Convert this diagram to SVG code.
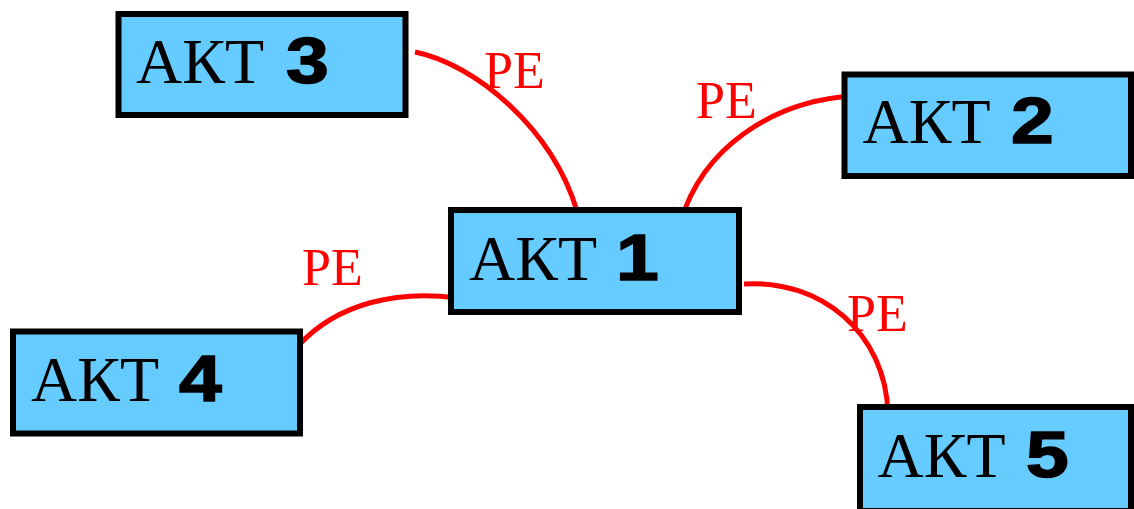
<svg xmlns="http://www.w3.org/2000/svg" width="1134" height="509" viewBox="0 0 1134 509">
<style>
.box{fill:#66CCFF;stroke:#000;stroke-width:6}
.t{font-family:"Liberation Serif","Times New Roman",serif;font-size:64px;fill:#000}
.d{font-family:"Liberation Sans",Arial,sans-serif;font-weight:bold;font-size:64px;fill:#000;stroke:#000;stroke-width:1.5}
.lbl{font-family:"Liberation Serif","Times New Roman",serif;font-size:52px;fill:#FF0000}
.c{fill:none;stroke:#FF0000;stroke-width:5}
</style>
<rect width="1134" height="509" fill="#fff"/>
<g id="connectors">
<path class="c" d="M415,52 C475,64 552,128 577,211"/>
<path class="c" d="M681,221 C702,150 770,101 853,96"/>
<path class="c" d="M744,284 C820,279 886,332 888,414"/>
<path class="c" d="M457,298 C400,290 338,302 298,346"/>
<text class="lbl" x="484" y="88">РЕ</text>
<text class="lbl" x="696" y="118">РЕ</text>
<text class="lbl" x="847" y="331">РЕ</text>
<text class="lbl" x="302" y="285">РЕ</text>
</g>
<g id="akt3">
<rect class="box" x="118.5" y="14" width="287" height="101"/>
<text class="t" x="136" y="83">АКТ</text>
<text class="d" transform="translate(286,83) scale(1.2,1)">3</text>
</g>
<g id="akt1">
<rect class="box" x="451" y="210" width="288" height="102"/>
<text class="t" x="469" y="280">АКТ</text>
<text class="d" transform="translate(616,280) scale(1.2,1)">1</text>
</g>
<g id="akt2">
<rect class="box" x="844.5" y="74.5" width="286.5" height="101.5"/>
<text class="t" x="862.5" y="143">АКТ</text>
<text class="d" transform="translate(1011,143) scale(1.2,1)">2</text>
</g>
<g id="akt4">
<rect class="box" x="13" y="331.5" width="287" height="102"/>
<text class="t" x="31" y="401">АКТ</text>
<text class="d" transform="translate(179,401) scale(1.2,1)">4</text>
</g>
<g id="akt5">
<rect class="box" x="860" y="407" width="271" height="104"/>
<text class="t" x="877.5" y="477">АКТ</text>
<text class="d" transform="translate(1026,477) scale(1.2,1)">5</text>
</g>
</svg>
